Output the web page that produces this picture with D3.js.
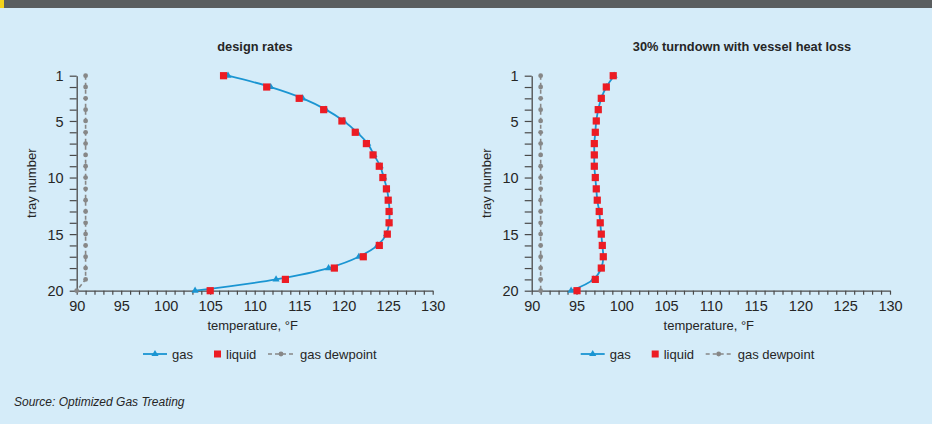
<!DOCTYPE html>
<html><head><meta charset="utf-8">
<script src="https://cdn.jsdelivr.net/npm/d3@7"></script>
<style>
html,body{margin:0;padding:0;background:#d5ecf9;}
svg{display:block;}
text{font-family:"Liberation Sans Narrow","Arial Narrow",sans-serif;fill:#262626;}
text.tick-lab{font-family:"Liberation Sans",Arial,sans-serif;}
</style></head>
<body>
<svg id="c" width="932" height="424"></svg>
<script>
const trays = d3.range(1, 21);
const yTickLabels = [1, 5, 10, 15, 20];
const xTickLabels = [90, 95, 100, 105, 110, 115, 120, 125, 130];

const leftGas = [107.0,111.8,115.4,118.0,120.0,121.5,122.7,123.4,124.1,124.5,124.85,125.05,125.15,125.1,124.8,123.8,121.7,118.3,112.4,103.3];
const leftLiquid = [106.5,111.35,115.0,117.75,119.8,121.3,122.55,123.3,124.0,124.4,124.8,125.0,125.1,125.1,124.9,124.0,122.2,118.95,113.45,105.0];
const leftDew = [91,91,91,91,91,91,91,91,91,91,91,91,91,91,91,91,91,91,91,90];

const rightGas = [99.2,98.33,97.77,97.43,97.21,97.1,96.99,96.99,96.99,97.1,97.21,97.32,97.54,97.65,97.77,97.88,97.99,97.77,96.9,94.4];
const rightLiquid = [99.1,98.33,97.77,97.43,97.21,97.1,96.99,96.99,96.99,97.1,97.21,97.32,97.54,97.65,97.77,97.88,97.99,97.77,97.1,95.06];
const rightDew = [91,91,91,91,91,91,91,91,91,91,91,91,91,91,91,91,91,91,91,91];

const titles = ["design rates", "30% turndown with vessel heat loss"];
const legendLabels = ["gas", "liquid", "gas dewpoint"];

const C_GAS = "#1a95d2", C_LIQ = "#ec1c24", C_DEW = "#878787", C_AX = "#4a4a4a";
const svg = d3.select("#c");

// top bar
svg.append("rect").attr("x",0).attr("y",0).attr("width",932).attr("height",8).attr("fill","#5a5e60");
svg.append("rect").attr("x",0).attr("y",0).attr("width",4).attr("height",8).attr("fill","#f3d31c");

const panels = [
  {x0:76.7, x1:432.7, gas:leftGas, liq:leftLiquid, dew:leftDew, title:titles[0], titleX:255, ylabX:36, legX:143},
  {x0:531.7, x1:890, gas:rightGas, liq:rightLiquid, dew:rightDew, title:titles[1], titleX:742, ylabX:491, legX:580.7}
];

panels.forEach(p => {
  const x = d3.scaleLinear().domain([90,130]).range([p.x0, p.x1]);
  const y = d3.scaleLinear().domain([1,20]).range([75.7, 290.7]);
  const g = svg.append("g");

  // axes
  const xa = g.append("g").attr("transform",`translate(0,${y(20)})`)
    .call(d3.axisBottom(x).tickValues(d3.range(90,131,1)).tickSize(4).tickSizeOuter(0)
      .tickFormat(d => xTickLabels.includes(d) ? d : ""));
  const ya = g.append("g").attr("transform",`translate(${x(90)},0)`)
    .call(d3.axisLeft(y).tickValues(trays).tickSize(7).tickSizeOuter(0)
      .tickFormat(d => yTickLabels.includes(d) ? d : ""));
  [xa, ya].forEach(a => {
    a.attr("font-size",null).attr("font-family",null);
    a.selectAll("path").attr("stroke",C_AX).attr("stroke-width",1.3);
    a.selectAll("line").attr("stroke",C_AX).attr("stroke-width",1.2);
    a.selectAll("text").classed("tick-lab",true).attr("font-size",14.5).attr("fill","#262626");
  });
  xa.selectAll("text").attr("y",20.8).attr("dy",0);
  ya.selectAll("text").attr("x",-13).attr("dy","0.36em");

  // labels
  g.append("text").attr("x",p.titleX).attr("y",51).attr("text-anchor","middle")
    .attr("font-size",12.8).attr("font-weight","bold").attr("fill","#1e1e1e").text(p.title);
  g.append("text").attr("transform",`translate(${p.ylabX},${y(10.5)}) rotate(-90)`)
    .attr("text-anchor","middle").attr("font-size",13).text("tray number");
  g.append("text").attr("x",(p.x0+p.x1)/2 - 2).attr("y",330).attr("text-anchor","middle")
    .attr("font-size",13).text("temperature, °F");

  // dewpoint
  const dewLine = d3.line().x(d => x(d[0])).y(d => y(d[1]));
  const dewPts = p.dew.map((v,i) => [v, trays[i]]);
  g.append("path").attr("d", dewLine(dewPts)).attr("fill","none")
    .attr("stroke",C_DEW).attr("stroke-width",1.6).attr("stroke-dasharray","4,3");
  g.selectAll(".dew").data(dewPts).join("circle")
    .attr("cx",d=>x(d[0])).attr("cy",d=>y(d[1])).attr("r",2.4).attr("fill",C_DEW);

  // gas
  const gasPts = p.gas.map((v,i) => [v, trays[i]]);
  const gasLine = d3.line().x(d => x(d[0])).y(d => y(d[1])).curve(d3.curveCatmullRom);
  g.append("path").attr("d", gasLine(gasPts)).attr("fill","none")
    .attr("stroke",C_GAS).attr("stroke-width",1.8);
  const tri = d3.symbol().type(d3.symbolTriangle).size(22);
  g.selectAll(".gas").data(gasPts).join("path")
    .attr("d", tri).attr("transform",d=>`translate(${x(d[0])},${y(d[1])})`).attr("fill",C_GAS);

  // liquid
  const liqPts = p.liq.map((v,i) => [v, trays[i]]);
  g.selectAll(".liq").data(liqPts).join("rect")
    .attr("x",d=>x(d[0])-3.6).attr("y",d=>y(d[1])-3.6).attr("width",7.2).attr("height",7.2).attr("fill",C_LIQ);

  // legend
  const ly = 354, lx = p.legX;
  const lg = g.append("g");
  lg.append("line").attr("x1",lx).attr("x2",lx+24).attr("y1",ly).attr("y2",ly).attr("stroke",C_GAS).attr("stroke-width",1.8);
  lg.append("path").attr("d",tri).attr("transform",`translate(${lx+12},${ly})`).attr("fill",C_GAS);
  lg.append("text").attr("x",lx+29).attr("y",ly+4.5).attr("font-size",13).text(legendLabels[0]);
  lg.append("rect").attr("x",lx+71).attr("y",ly-3.5).attr("width",7).attr("height",7).attr("fill",C_LIQ);
  lg.append("text").attr("x",lx+83).attr("y",ly+4.5).attr("font-size",13).text(legendLabels[1]);
  lg.append("line").attr("x1",lx+125).attr("x2",lx+151).attr("y1",ly).attr("y2",ly).attr("stroke",C_DEW).attr("stroke-width",1.6).attr("stroke-dasharray","4,3");
  lg.append("circle").attr("cx",lx+138).attr("cy",ly).attr("r",2.4).attr("fill",C_DEW);
  lg.append("text").attr("x",lx+157).attr("y",ly+4.5).attr("font-size",13).text(legendLabels[2]);
});

svg.append("text").attr("x",14).attr("y",406).attr("font-size",12).attr("font-style","italic")
  .attr("fill","#262626").text("Source: Optimized Gas Treating");
</script>
</body></html>
